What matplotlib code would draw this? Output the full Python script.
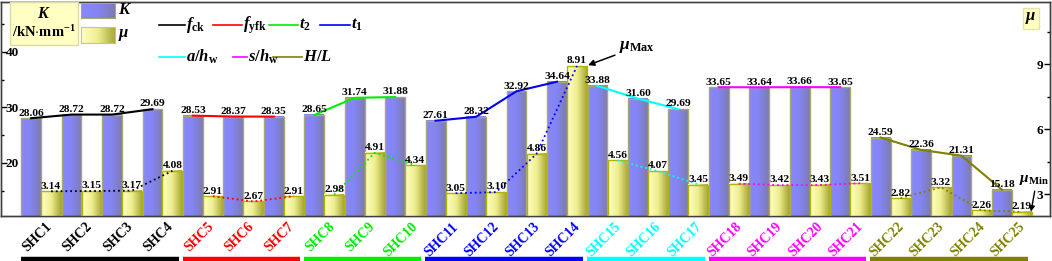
import numpy as np
import matplotlib
matplotlib.use("Agg")
import matplotlib.pyplot as plt
from matplotlib.colors import LinearSegmentedColormap
from matplotlib.patches import Rectangle
from matplotlib.lines import Line2D
from matplotlib.transforms import ScaledTranslation, blended_transform_factory

plt.rcParams["font.family"] = "Liberation Serif"
plt.rcParams["font.weight"] = "bold"
plt.rcParams["mathtext.fontset"] = "custom"
plt.rcParams["mathtext.rm"] = "Liberation Serif:bold"
plt.rcParams["mathtext.it"] = "Liberation Serif:italic:bold"
plt.rcParams["mathtext.bf"] = "Liberation Serif:bold"

# ---- data ----
specimens = [f"SHC{i}" for i in range(1, 26)]
K = [28.06, 28.72, 28.72, 29.69, 28.53, 28.37, 28.35, 28.65, 31.74, 31.88,
     27.61, 28.32, 32.92, 34.64, 33.88, 31.60, 29.69, 33.65, 33.64, 33.66,
     33.65, 24.59, 22.36, 21.31, 15.18]
mu = [3.14, 3.15, 3.17, 4.08, 2.91, 2.67, 2.91, 2.98, 4.91, 4.34,
      3.05, 3.10, 4.86, 8.91, 4.56, 4.07, 3.45, 3.49, 3.42, 3.43,
      3.51, 2.82, 3.32, 2.26, 2.19]
group_bounds = [(0, 4), (4, 7), (7, 10), (10, 14), (14, 17), (17, 21), (21, 25)]
group_names = [r"$f_{\mathrm{ck}}$", r"$f_{\mathrm{yfk}}$", r"$t_2$", r"$t_1$",
               r"$a/h_{\mathrm{w}}$", r"$s/h_{\mathrm{w}}$", r"$H/L$"]
group_colors = ["black", "#ff0000", "#00ee00", "#0000ff", "#00ffff", "#ff00ff", "#808000"]

W, H = 1052, 261
fig = plt.figure(figsize=(W / 100, H / 100), dpi=100)


def fpos(x, y):
    # pixel (from top-left) -> figure fraction
    return x / W, 1 - y / H


ax = fig.add_axes([1 / W, 45 / H, 1049 / W, 214 / H])
ax2 = ax.twinx()

k_cmap = LinearSegmentedColormap.from_list("k", ["#8888ff", "#8484f0", "#7c7cb0"])
mu_cmap = LinearSegmentedColormap.from_list("mu", ["#ffffc4", "#eeee90", "#a8a83c"])
grad = np.linspace(0, 1, 64).reshape(1, -1)

x = np.arange(len(specimens))
bw = 0.49
off = 0.247


def gradient_bars(axis, xs, heights, cmap, edge):
    bars = axis.bar(xs, heights, width=bw, facecolor="none", edgecolor=edge,
                    linewidth=1.0, zorder=3)
    for b in bars:
        x0, w, h = b.get_x(), b.get_width(), b.get_height()
        axis.imshow(grad, extent=[x0, x0 + w, 0, h], aspect="auto", cmap=cmap,
                    origin="lower", zorder=2, interpolation="bilinear")
    return bars


gradient_bars(ax, x - off, K, k_cmap, "#a8a870")
gradient_bars(ax2, x + off, mu, mu_cmap, "#b4b400")

for (a, b), c in zip(group_bounds, group_colors):
    ax.plot(x[a:b] - off, K[a:b], color=c, lw=1.5, zorder=5)
    ax2.plot(x[a:b] + off, mu[a:b], color=c, lw=1.3, ls=":", zorder=5)

# value labels all live on the top axes so the mu bars never hide them
for xi, k, m in zip(x, K, mu):
    ax2.annotate(f"{k:.2f}", (xi - off, k), xycoords=ax.transData, xytext=(0, 0.5),
                 textcoords="offset points", ha="center", va="bottom", fontsize=8.2,
                 zorder=6)
    ax2.annotate(f"{m:.2f}", (xi + off, m), xytext=(0, 0.5), textcoords="offset points",
                 ha="center", va="bottom", fontsize=8.2, zorder=6)

ax.set_xlim(-0.99, 24.94)
ax.set_ylim(10.45, 49.0)
ax2.set_ylim(2.0, 11.86)

# axes styling
for a_ in (ax, ax2):
    for s in a_.spines.values():
        s.set_color("#404040")
        s.set_linewidth(1.0)

ax.set_yticks([20, 30, 40])
ax.set_yticks([15, 25, 35, 45], minor=True)
ax.tick_params(axis="y", which="major", direction="in", length=4, width=1, pad=-3.5,
               labelsize=9.5)
ax.tick_params(axis="y", which="minor", direction="in", length=2.5, width=1)
for lab in ax.get_yticklabels():
    lab.set_horizontalalignment("left")

ax2.set_yticks([3, 6, 9])
ax2.set_yticks([4.5, 7.5, 10.5], minor=True)
ax2.tick_params(axis="y", which="major", direction="in", length=4, width=1, pad=-5,
                labelsize=9.5)
ax2.tick_params(axis="y", which="minor", direction="in", length=2.5, width=1)
for lab in ax2.get_yticklabels():
    lab.set_horizontalalignment("right")

ax.set_xticks(x)
ax.set_xticklabels(specimens, rotation=45, ha="center", va="top", fontsize=10)
ax.tick_params(axis="x", length=0, pad=3)
shift = ScaledTranslation(-4 / 100, 0, fig.dpi_scale_trans)
tick_colors = []
for (a, b), c in zip(group_bounds, group_colors):
    tick_colors += [c] * (b - a)
for lab, c in zip(ax.get_xticklabels(), tick_colors):
    lab.set_color(c)
    lab.set_transform(lab.get_transform() + shift)

# coloured group underlines
trans = blended_transform_factory(ax.transData, ax.transAxes)
for (a, b), c in zip(group_bounds, group_colors):
    ax.plot([a - 0.5, b - 1 + 0.4], [-0.199, -0.199], transform=trans, color=c,
            lw=3.2, solid_capstyle="butt", clip_on=False)

# annotations
ax2.annotate(r"$\mu_{\mathrm{Max}}$", xy=(13.52, 8.95), xytext=fpos(619, 47),
             textcoords="figure fraction", ha="left", va="center", fontsize=12.5,
             arrowprops=dict(arrowstyle="-|>", color="black", lw=1.1,
                             mutation_scale=9, shrinkA=1, shrinkB=0))
ax2.annotate(r"$\mu_{\mathrm{Min}}$", xy=(24.47, 2.2), xytext=fpos(1019, 180),
             textcoords="figure fraction", ha="left", va="center", fontsize=11,
             arrowprops=dict(arrowstyle="-|>", color="black", lw=1.0,
                             mutation_scale=8, shrinkA=1, shrinkB=0,
                             relpos=(0.55, 0.0)))

# right axis title box
fig.text(*fpos(1031, 18), r"$\mu$", ha="center", va="center", fontsize=12,
         bbox=dict(boxstyle="square,pad=0.15", facecolor="#ffffc0", edgecolor="#e4e4a8"))

# ---- legend (drawn by hand at the reference positions) ----
x0, y0 = fpos(10, 45)
x1, y1 = fpos(78, 2)
fig.add_artist(Rectangle((x0, y0), x1 - x0, y1 - y0, transform=fig.transFigure,
                         facecolor="#ffffc4", edgecolor="#dcdca0", lw=1.0))
fig.text(*fpos(44, 14), r"$K$", ha="center", va="center", fontsize=11.5)
fig.text(*fpos(44, 32), r"/kN$\cdot$mm$^{-1}$", ha="center", va="center", fontsize=10.5)

for (ya, yb), cmap, edge, name in [((3, 18), k_cmap, "#a8a870", r"$K$"),
                                    ((27, 43), mu_cmap, "#c8c870", r"$\mu$")]:
    lx0, ly0 = fpos(81, yb)
    lx1, ly1 = fpos(115, ya)
    lax = fig.add_axes([lx0, ly0, lx1 - lx0, ly1 - ly0])
    lax.imshow(grad, aspect="auto", cmap=cmap, interpolation="bilinear")
    lax.set_xticks([])
    lax.set_yticks([])
    for s in lax.spines.values():
        s.set_color(edge)
    fig.text(*fpos(118, (ya + yb) / 2), name, ha="left", va="center", fontsize=12)

line_legend = [(25, 159, 185), (25, 213, 242), (25, 269, 298), (25, 320, 350),
               (57, 159, 185), (57, 233, 247), (57, 273, 302)]
for (yy, xa, xb), c, name in zip(line_legend, group_colors, group_names):
    p0 = fpos(xa, yy)
    p1 = fpos(xb, yy)
    fig.add_artist(Line2D([p0[0], p1[0]], [p0[1], p1[1]], transform=fig.transFigure,
                          color=c, lw=1.2))
    fig.text(*fpos(xb + 1, yy), name, ha="left", va="center", fontsize=12)

fig.savefig("out.png", dpi=100)
